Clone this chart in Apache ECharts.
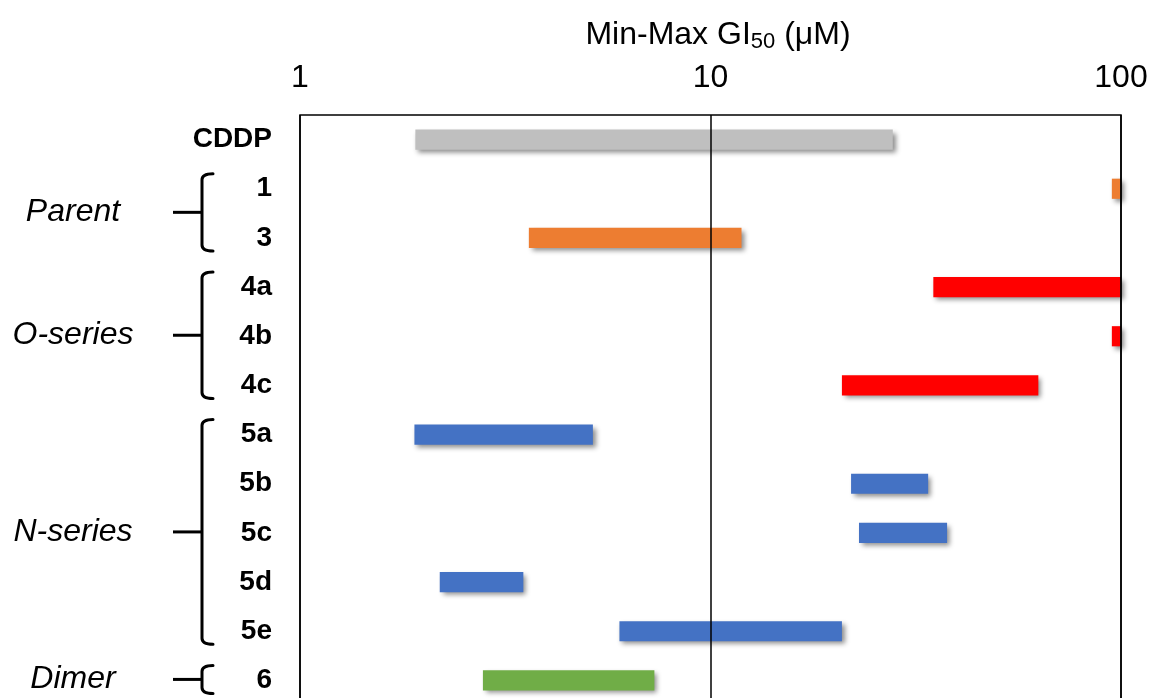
<!DOCTYPE html>
<html>
<head>
<meta charset="utf-8">
<script src="https://cdn.jsdelivr.net/npm/echarts@6/dist/echarts.min.js"></script>
<style>
  html, body { margin: 0; padding: 0; background: #fff; overflow: hidden; }
  #chart { width: 1151px; height: 730px; }
</style>
</head>
<body>
<div id="chart"></div>
<script>
// ---- Data ----
const categories = ['CDDP', '1', '3', '4a', '4b', '4c', '5a', '5b', '5c', '5d', '5e', '6'];
const gi50Min = [1.91, 95, 3.61, 34.9, 95, 20.9, 1.90, 22.0, 23.0, 2.19, 6.0, 2.79];
const gi50Max = [27.8, 100, 11.9, 100, 100, 62.9, 5.17, 33.9, 37.7, 3.50, 20.9, 7.30];
const compoundGroup = ['CDDP', 'Parent', 'Parent', 'O-series', 'O-series', 'O-series',
  'N-series', 'N-series', 'N-series', 'N-series', 'N-series', 'Dimer'];
const seriesNames = ['CDDP', 'Parent', 'O-series', 'N-series', 'Dimer'];
const braceGroups = ['Parent', 'O-series', 'N-series', 'Dimer'];
const braceFirst = ['1', '4a', '5a', '6'];
const braceLast = ['3', '4c', '5e', '6'];
const xTicks = [1, 10, 100];

// ---- Styles ----
const FONT = 'Liberation Sans, Arial, Helvetica, sans-serif';
const colors = { 'CDDP': '#BFBFBF', 'Parent': '#ED7D31', 'O-series': '#FF0000', 'N-series': '#4472C4', 'Dimer': '#70AD47' };

const chart = echarts.init(document.getElementById('chart'), null, { renderer: 'canvas' });

function renderBar(params, api) {
  const c = api.value(0);
  const p0 = api.coord([api.value(1), c]);
  const p1 = api.coord([api.value(2), c]);
  const h = api.size([1, 1])[1] * 0.41;
  return {
    type: 'rect',
    shape: { x: p0[0], y: p0[1] - h / 2, width: p1[0] - p0[0], height: h },
    style: {
      fill: api.visual('color'),
      shadowBlur: 5, shadowOffsetX: 3, shadowOffsetY: 3,
      shadowColor: 'rgba(0,0,0,0.45)'
    }
  };
}

function renderBrace(params, api) {
  const s = api.value(0), e = api.value(1);
  const gx = params.coordSys.x;
  const y0 = api.coord([xTicks[0], s])[1] - 15;
  const y1 = api.coord([xTicks[0], e])[1] + 13;
  const mid = (y0 + y1) / 2;
  const x = gx - 98;
  const path = 'M' + (x + 11) + ' ' + y0 + ' Q' + x + ' ' + y0 + ' ' + x + ' ' + (y0 + 6) +
    ' L' + x + ' ' + (y1 - 6) + ' Q' + x + ' ' + y1 + ' ' + (x + 11) + ' ' + y1;
  return {
    type: 'group',
    children: [
      { type: 'path', shape: { pathData: path }, style: { stroke: '#000', lineWidth: 3, fill: null, lineJoin: 'round', lineCap: 'round' } },
      { type: 'line', shape: { x1: x - 29, y1: mid, x2: x, y2: mid }, style: { stroke: '#000', lineWidth: 3 } },
      { type: 'text', style: {
          text: braceGroups[params.dataIndex], x: gx - 227, y: mid,
          align: 'center', verticalAlign: 'middle',
          fontSize: 32, fontStyle: 'italic', fontFamily: FONT, fill: '#000'
        } }
    ]
  };
}

const barSeries = seriesNames.map(function (name) {
  const data = [];
  categories.forEach(function (cat, i) {
    if (compoundGroup[i] === name) data.push([i, gi50Min[i], gi50Max[i]]);
  });
  return {
    type: 'custom', name: name, renderItem: renderBar,
    encode: { y: 0, x: [1, 2] },
    itemStyle: { color: colors[name] },
    data: data, z: 2, clip: false
  };
});

const braceData = braceGroups.map(function (g, i) {
  return [categories.indexOf(braceFirst[i]), categories.indexOf(braceLast[i])];
});

const option = {
  animation: false,
  backgroundColor: '#fff',
  grid: {
    left: 300, top: 115, width: 821, height: 590,
    show: true, borderColor: '#000', borderWidth: 1.5, backgroundColor: 'transparent', z: 10
  },
  xAxis: {
    type: 'log', logBase: 10, min: xTicks[0], max: xTicks[xTicks.length - 1],
    position: 'top', z: 5,
    name: 'Min-Max GI{sub|50} (μM)', nameLocation: 'middle', nameGap: 62,
    nameTextStyle: {
      fontSize: 32, color: '#000', fontFamily: FONT, padding: [0, 0, 0, 15],
      rich: { sub: { fontSize: 22, color: '#000', fontFamily: FONT, padding: [13, 0, 0, 0] } }
    },
    axisLine: { show: false },
    axisTick: { show: false },
    axisLabel: { fontSize: 32, color: '#000', fontFamily: FONT, margin: 21,
      formatter: function (v) { return String(Math.round(v)); } },
    splitLine: { show: true, lineStyle: { color: '#000', width: 1.5 } },
    minorSplitLine: { show: false }
  },
  yAxis: {
    type: 'category', data: categories, inverse: true,
    axisLine: { show: false }, axisTick: { show: false },
    axisLabel: { fontSize: 28, fontWeight: 'bold', color: '#000', fontFamily: FONT, margin: 28 },
    splitLine: { show: false }
  },
  series: barSeries.concat([{
    type: 'custom', name: 'braces', renderItem: renderBrace,
    encode: { y: [0, 1] }, data: braceData, clip: false, silent: true, z: 3
  }])
};

chart.setOption(option);
</script>
</body>
</html>
